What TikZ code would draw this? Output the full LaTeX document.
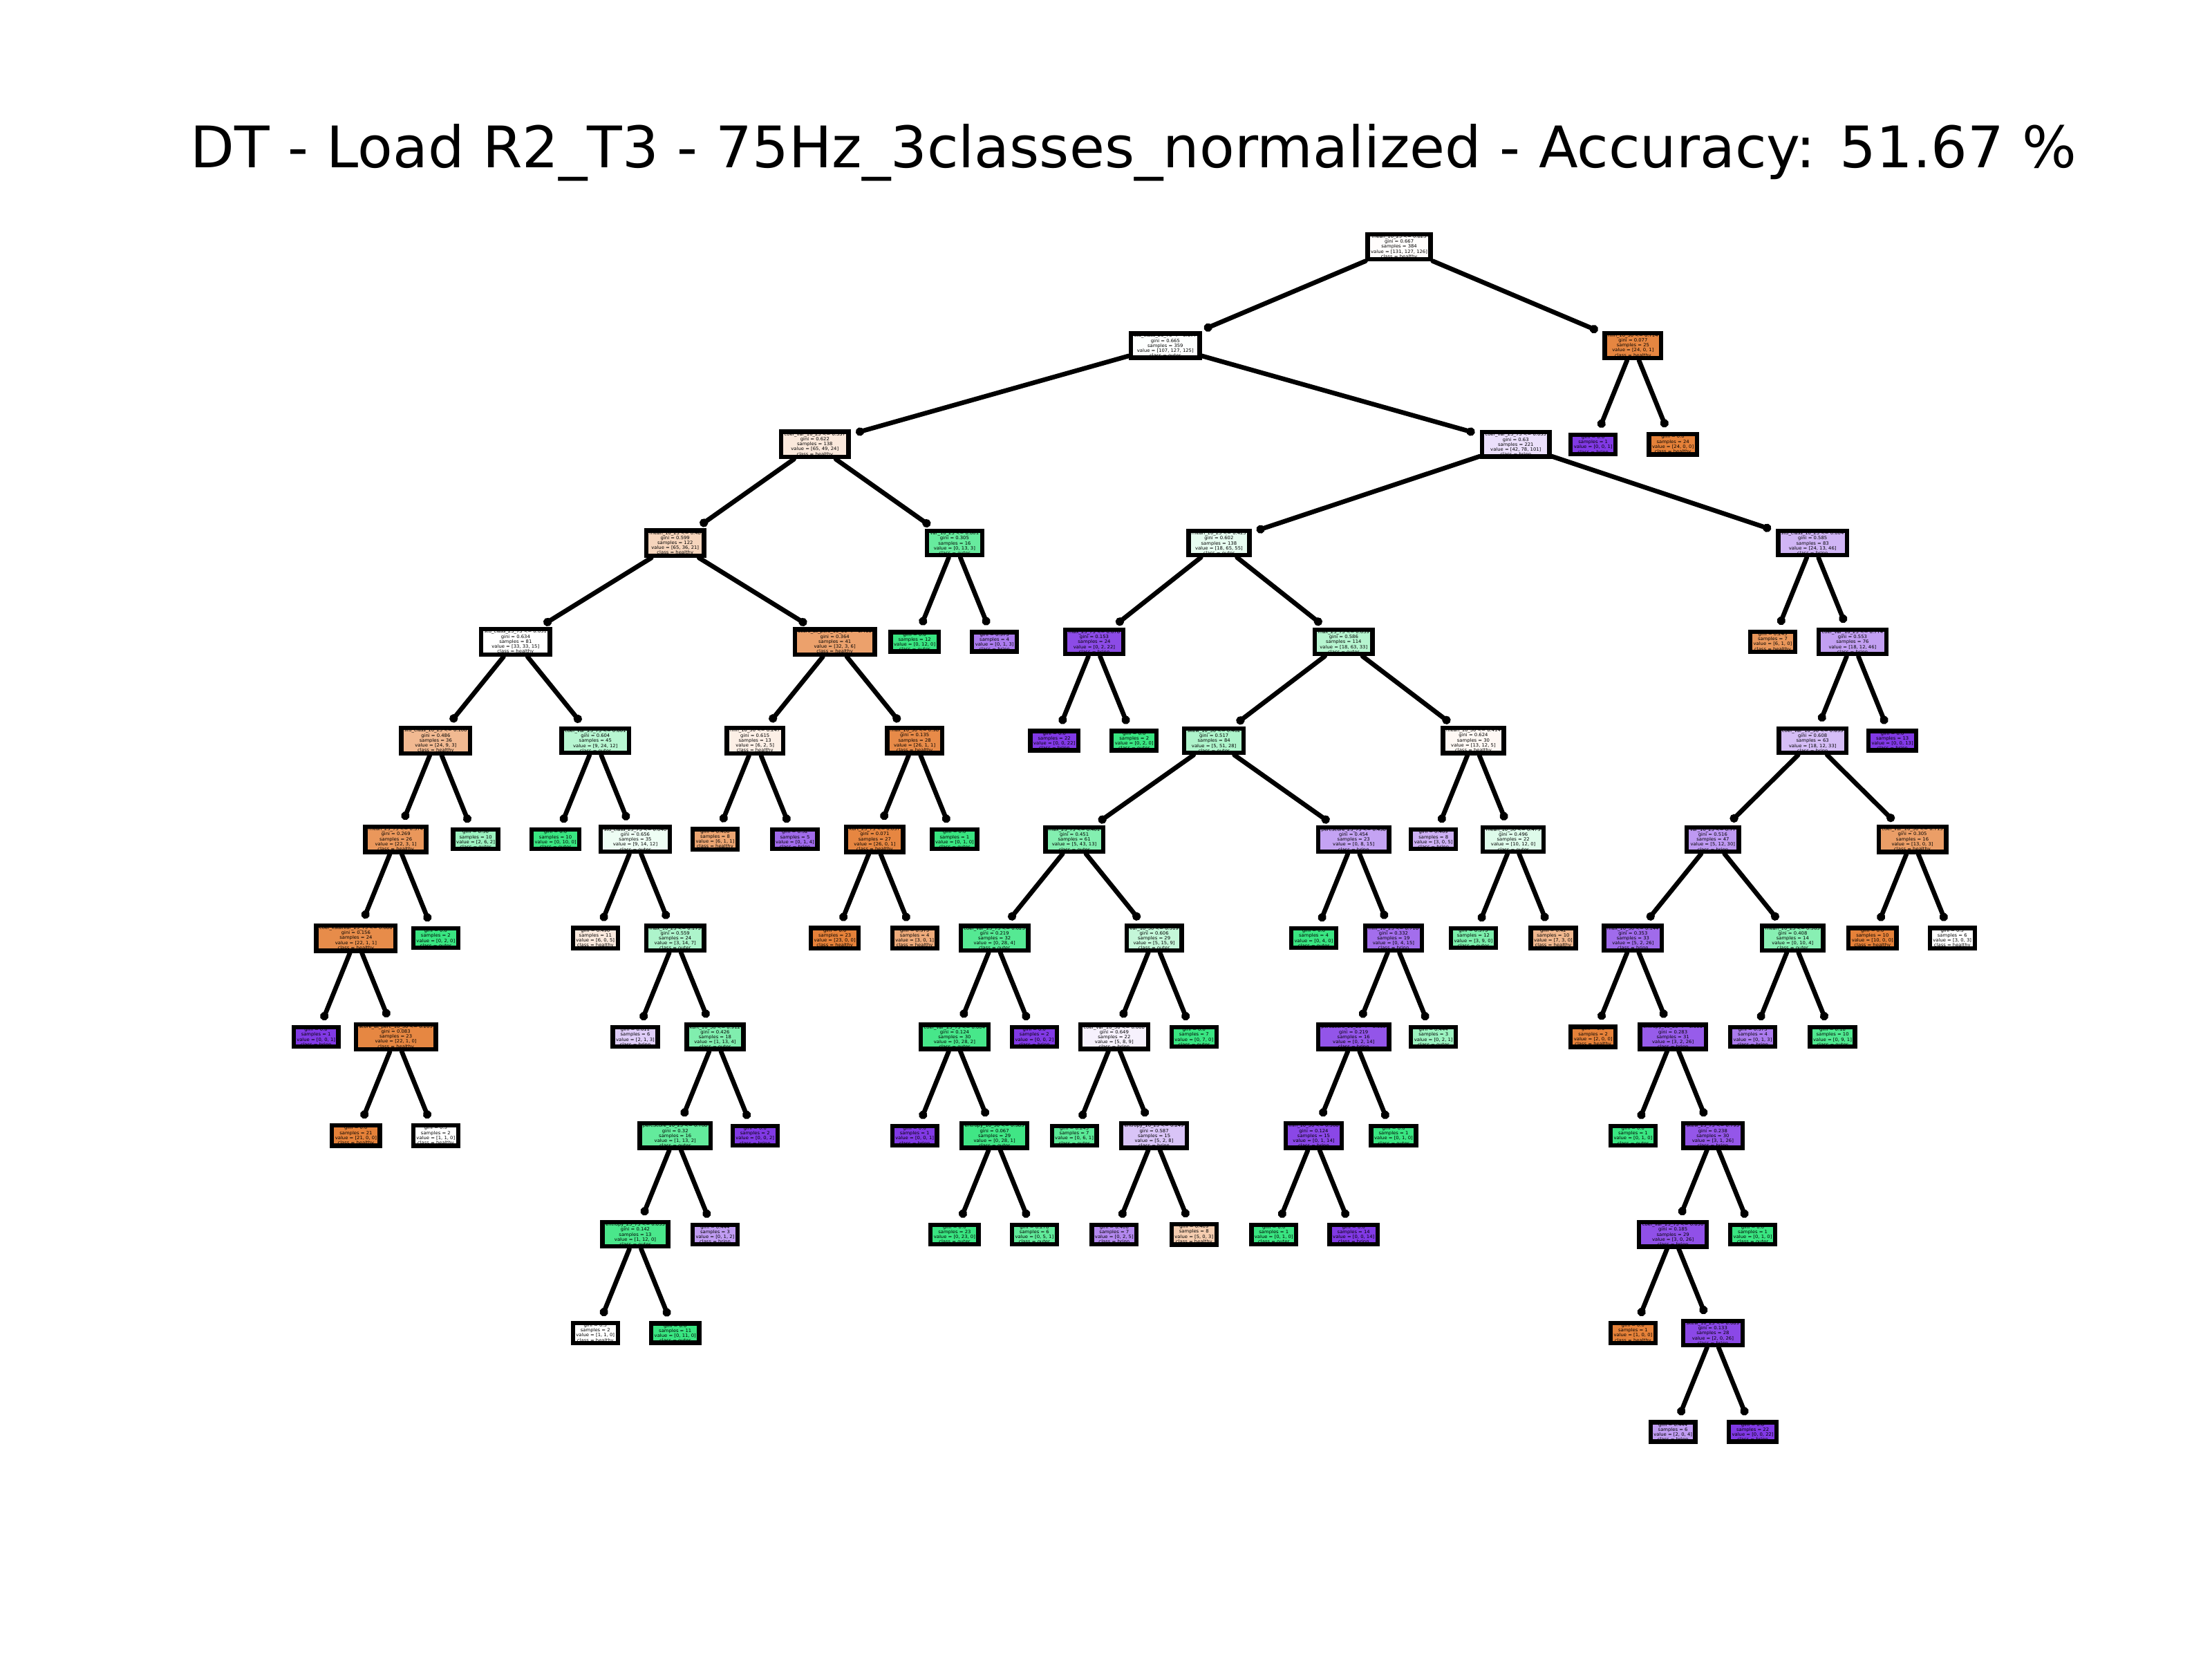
\documentclass[tikz,border=0pt]{standalone}
\usepackage{fontspec}
\setmainfont{DejaVu Sans}
\newfontfamily\tbfont[FakeStretch=1.05]{DejaVu Sans}
\usetikzlibrary{arrows.meta}
\definecolor{c1}{RGB}{229,129,57}
\definecolor{c2}{RGB}{57,229,129}
\definecolor{c3}{RGB}{129,57,229}
\newcommand\setfill[3]{%
  \ifnum#1<#2\relax
    \ifnum#2<#3\relax\def\cls{3}\else\def\cls{2}\fi
  \else
    \ifnum#1<#3\relax\def\cls{3}\else\def\cls{1}\fi
  \fi
  \pgfmathsetmacro\mx{max(#1,#2,#3)}%
  \pgfmathsetmacro\mn{min(#1,#2,#3)}%
  \pgfmathsetmacro\sd{#1+#2+#3-\mx-\mn}%
  \pgfmathsetmacro\pct{100*(\mx-\sd)/(#1+#2+#3-\sd)}%
  \colorlet{nf}{c\cls!\pct!white}%
  \ifcase\cls\or\def\clsname{healthy}\or\def\clsname{outer}\or\def\clsname{brinn}\fi
}
\newcommand\tn[7]{%
  \setfill{#4}{#5}{#6}%
  \node[tbox, fill=nf] (#1) at ({4.5714+0.57735*(#2)}, {-3.5714-1.42857*(#3)})
    {#7\\samples = \the\numexpr#4+#5+#6\relax\\value = [#4, #5, #6]\\class = \clsname};
}
\tikzset{
  tbox/.style={draw=black, line width=1.8pt, rectangle, align=center,
    inner xsep=1.3pt, inner ysep=0.2pt,
    font=\tbfont\fontsize{1.85pt}{2.05pt}\selectfont},
  edge/.style={line width=1.9pt, -{Circle[length=3.4pt]}, shorten >=2.2pt, line cap=round}
}
\begin{document}
\begin{tikzpicture}
\useasboundingbox (0,0) rectangle (32,-24);
\node[anchor=base] (title) at (16.398,-2.429) {\resizebox{27.28cm}{!}{DT - Load R2\_T3 - 75Hz\_3classes\_normalized - Accuracy: 51.67 \%}};
% level 0
\tn{root}{27.140625}{0}{131}{127}{126}{mean\_10\_25 <= 0.823\\gini = 0.667}
% level 1
\tn{A}{21.28125}{1}{107}{127}{125}{std\_class\_25\_75 <= 0.077\\gini = 0.665}
\tn{B}{33}{1}{24}{0}{1}{min\_10\_50 <= 0.714\\gini = 0.077}
% level 2
\tn{A1}{12.5}{2}{65}{49}{24}{coef\_var\_10\_25 <= 0.337\\gini = 0.622}
\tn{A2}{30.0625}{2}{42}{78}{101}{coef\_var\_25\_75 <= 0.035\\gini = 0.63}
\tn{B1}{32}{2}{0}{0}{1}{gini = 0.0}
\tn{B2}{34}{2}{24}{0}{0}{gini = 0.0}
% level 3
\tn{A1a}{9}{3}{65}{36}{21}{mean\_10\_25 <= 0.48\\gini = 0.599}
\tn{A1b}{16}{3}{0}{13}{3}{var\_10\_25 <= 0.801\\gini = 0.305}
\tn{M}{22.625}{3}{18}{65}{55}{mean\_10\_25 <= 0.425\\gini = 0.602}
\tn{N}{37.5}{3}{24}{13}{46}{std\_class\_10\_25 <= 0.004\\gini = 0.585}
% level 4
\tn{C}{5}{4}{33}{33}{15}{std\_class\_25\_75 <= 0.031\\gini = 0.634}
\tn{D}{13}{4}{32}{3}{6}{score\_at\_perc\_10\_50 <= 0.453\\gini = 0.364}
\tn{A1bL}{15}{4}{0}{12}{0}{gini = 0.0}
\tn{A1bR}{17}{4}{0}{1}{3}{gini = 0.375}
\tn{M1}{19.5}{4}{0}{2}{22}{max\_25\_75 <= 0.678\\gini = 0.153}
\tn{M2}{25.75}{4}{18}{63}{33}{max\_25\_75 <= 0.639\\gini = 0.586}
\tn{NL}{36.5}{4}{6}{1}{0}{gini = 0.245}
\tn{CC}{38.5}{4}{18}{12}{46}{coef\_var\_10\_25 <= 0.774\\gini = 0.553}
% level 5
\tn{C1}{3}{5}{24}{9}{3}{std\_class\_10\_25 <= 0.108\\gini = 0.486}
\tn{C2}{7}{5}{9}{24}{12}{coef\_var\_25\_75 <= 0.001\\gini = 0.604}
\tn{J}{11}{5}{6}{2}{5}{min\_10\_50 <= 0.247\\gini = 0.615}
\tn{K}{15}{5}{26}{1}{1}{max\_10\_50 <= 0.98\\gini = 0.135}
\tn{M1L}{18.5}{5}{0}{0}{22}{gini = 0.0}
\tn{M1R}{20.5}{5}{0}{2}{0}{gini = 0.0}
\tn{O}{22.5}{5}{5}{51}{28}{skew\_10\_50 <= 0.462\\gini = 0.517}
\tn{P}{29}{5}{13}{12}{5}{mean\_10\_50 <= 0.414\\gini = 0.624}
\tn{DD}{37.5}{5}{18}{12}{33}{coef\_var\_10\_50 <= 0.635\\gini = 0.608}
\tn{CCR}{39.5}{5}{0}{0}{13}{gini = 0.0}
% level 6
\tn{C1a}{2}{6}{22}{3}{1}{mean\_25\_75 <= 0.374\\gini = 0.269}
\tn{C1b}{4}{6}{2}{6}{2}{gini = 0.56}
\tn{C2L}{6}{6}{0}{10}{0}{gini = 0.0}
\tn{E}{8}{6}{9}{14}{12}{std\_class\_25\_75 <= 0.046\\gini = 0.656}
\tn{JL}{10}{6}{6}{1}{1}{gini = 0.406}
\tn{JR}{12}{6}{0}{1}{4}{gini = 0.32}
\tn{L}{14}{6}{26}{0}{1}{kurt\_25\_75 <= 0.637\\gini = 0.071}
\tn{KR}{16}{6}{0}{1}{0}{gini = 0.0}
\tn{Q}{19}{6}{5}{43}{13}{max\_25\_75 <= 0.401\\gini = 0.451}
\tn{R}{26}{6}{0}{8}{15}{percScore\_25\_75 <= 0.458\\gini = 0.454}
\tn{PL}{28}{6}{3}{0}{5}{gini = 0.469}
\tn{BB}{30}{6}{10}{12}{0}{mean\_10\_50 <= 0.473\\gini = 0.496}
\tn{EE}{35}{6}{5}{12}{30}{var\_10\_25 <= 0.77\\gini = 0.516}
\tn{FF}{40}{6}{13}{0}{3}{coef\_var\_10\_50 <= 0.713\\gini = 0.305}
% level 7
\tn{C1a1}{1}{7}{22}{1}{1}{coef\_kstatvar\_25\_75 <= 0.088\\gini = 0.156}
\tn{C1a2}{3}{7}{0}{2}{0}{gini = 0.0}
\tn{EL}{7}{7}{6}{0}{5}{gini = 0.496}
\tn{F}{9}{7}{3}{14}{7}{max\_10\_25 <= 0.173\\gini = 0.559}
\tn{Lleft}{13}{7}{23}{0}{0}{gini = 0.0}
\tn{Lright}{15}{7}{3}{0}{1}{gini = 0.375}
\tn{S}{17}{7}{0}{28}{4}{coef\_var\_25\_75 <= 0.023\\gini = 0.219}
\tn{T}{21}{7}{5}{15}{9}{var\_10\_50 <= 0.319\\gini = 0.606}
\tn{RL}{25}{7}{0}{4}{0}{gini = 0.0}
\tn{Y}{27}{7}{0}{4}{15}{min\_10\_25 <= 0.718\\gini = 0.332}
\tn{BBL}{29}{7}{3}{9}{0}{gini = 0.375}
\tn{BBR}{31}{7}{7}{3}{0}{gini = 0.42}
\tn{GG}{33}{7}{5}{2}{26}{max\_10\_50 <= 0.144\\gini = 0.353}
\tn{HH}{37}{7}{0}{10}{4}{mean\_10\_25 <= 0.563\\gini = 0.408}
\tn{FFL}{39}{7}{10}{0}{0}{gini = 0.0}
\tn{FFR}{41}{7}{3}{0}{3}{gini = 0.5}
% level 8
\tn{C1a1L}{0}{8}{0}{0}{1}{gini = 0.0}
\tn{C1a1R}{2}{8}{22}{1}{0}{score\_at\_perc\_10\_50 <= 0.265\\gini = 0.083}
\tn{FL}{8}{8}{2}{1}{3}{gini = 0.611}
\tn{G}{10}{8}{1}{13}{4}{kurt\_10\_50 <= 0.912\\gini = 0.426}
\tn{U}{16}{8}{0}{28}{2}{coef\_var\_25\_75 <= 0.004\\gini = 0.124}
\tn{SR}{18}{8}{0}{0}{2}{gini = 0.0}
\tn{W}{20}{8}{5}{8}{9}{coef\_var\_10\_50 <= 0.008\\gini = 0.649}
\tn{TR}{22}{8}{0}{7}{0}{gini = 0.0}
\tn{Z}{26}{8}{0}{2}{14}{percScore\_10\_25 <= 0.035\\gini = 0.219}
\tn{YR}{28}{8}{0}{2}{1}{gini = 0.444}
\tn{GGL}{32}{8}{2}{0}{0}{gini = 0.0}
\tn{II}{34}{8}{3}{2}{26}{entropy\_10\_25 <= 0.005\\gini = 0.283}
\tn{HHL}{36}{8}{0}{1}{3}{gini = 0.375}
\tn{HHR}{38}{8}{0}{9}{1}{gini = 0.18}
% level 9
\tn{C1a1RL}{1}{9}{21}{0}{0}{gini = 0.0}
\tn{C1a1RR}{3}{9}{1}{1}{0}{gini = 0.5}
\tn{H}{9}{9}{1}{13}{2}{percScore\_10\_25 <= 0.768\\gini = 0.32}
\tn{GR}{11}{9}{0}{0}{2}{gini = 0.0}
\tn{UL}{15}{9}{0}{0}{1}{gini = 0.0}
\tn{V}{17}{9}{0}{28}{1}{entropy\_10\_50 <= 0.385\\gini = 0.067}
\tn{WL}{19}{9}{0}{6}{1}{gini = 0.245}
\tn{X}{21}{9}{5}{2}{8}{entropy\_10\_25 <= 0.249\\gini = 0.587}
\tn{AA}{25}{9}{0}{1}{14}{min\_10\_50 <= 0.566\\gini = 0.124}
\tn{ZR}{27}{9}{0}{1}{0}{gini = 0.0}
\tn{IIL}{33}{9}{0}{1}{0}{gini = 0.0}
\tn{JJ}{35}{9}{3}{1}{26}{skew\_25\_75 <= 0.795\\gini = 0.238}
% level 10
\tn{I}{8}{10}{1}{12}{0}{entropy\_25\_75 <= 0.055\\gini = 0.142}
\tn{HR}{10}{10}{0}{1}{2}{gini = 0.444}
\tn{VL}{16}{10}{0}{23}{0}{gini = 0.0}
\tn{VR}{18}{10}{0}{5}{1}{gini = 0.278}
\tn{XL}{20}{10}{0}{2}{5}{gini = 0.408}
\tn{XR}{22}{10}{5}{0}{3}{gini = 0.469}
\tn{AAL}{24}{10}{0}{1}{0}{gini = 0.0}
\tn{AAR}{26}{10}{0}{0}{14}{gini = 0.0}
\tn{KK}{34}{10}{3}{0}{26}{coef\_var\_25\_75 <= 0.036\\gini = 0.185}
\tn{JJR}{36}{10}{0}{1}{0}{gini = 0.0}
% level 11
\tn{IL}{7}{11}{1}{1}{0}{gini = 0.5}
\tn{IR}{9}{11}{0}{11}{0}{gini = 0.0}
\tn{KKL}{33}{11}{1}{0}{0}{gini = 0.0}
\tn{LL}{35}{11}{2}{0}{26}{skew\_10\_25 <= 0.089\\gini = 0.133}
% level 12
\tn{LLL}{34}{12}{2}{0}{4}{gini = 0.444}
\tn{LLR}{36}{12}{0}{0}{22}{gini = 0.0}
% edges
\foreach \p/\c in {root/A, root/B, B/B1, B/B2, A/A1, A/A2, A1/A1a, A1/A1b, A2/M, A2/N,
  A1a/C, A1a/D, A1b/A1bL, A1b/A1bR, M/M1, M/M2, N/NL, N/CC,
  C/C1, C/C2, D/J, D/K, M1/M1L, M1/M1R, M2/O, M2/P, CC/DD, CC/CCR,
  C1/C1a, C1/C1b, C2/C2L, C2/E, J/JL, J/JR, K/L, K/KR, O/Q, O/R, P/PL, P/BB, DD/EE, DD/FF,
  C1a/C1a1, C1a/C1a2, E/EL, E/F, L/Lleft, L/Lright, Q/S, Q/T, R/RL, R/Y, BB/BBL, BB/BBR,
  EE/GG, EE/HH, FF/FFL, FF/FFR,
  C1a1/C1a1L, C1a1/C1a1R, F/FL, F/G, S/U, S/SR, T/W, T/TR, Y/Z, Y/YR, GG/GGL, GG/II, HH/HHL, HH/HHR,
  C1a1R/C1a1RL, C1a1R/C1a1RR, G/H, G/GR, U/UL, U/V, W/WL, W/X, Z/AA, Z/ZR, II/IIL, II/JJ,
  H/I, H/HR, V/VL, V/VR, X/XL, X/XR, AA/AAL, AA/AAR, JJ/KK, JJ/JJR,
  I/IL, I/IR, KK/KKL, KK/LL, LL/LLL, LL/LLR}
  \draw[edge] (\p) -- (\c);
\end{tikzpicture}
\end{document}
